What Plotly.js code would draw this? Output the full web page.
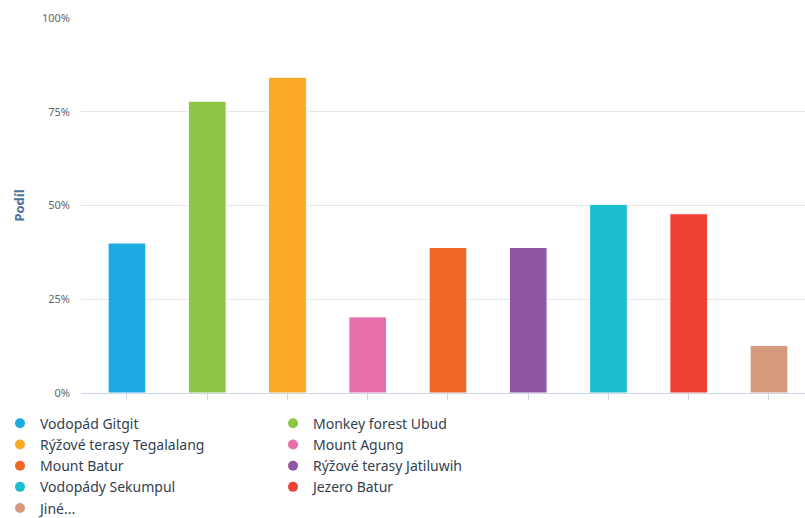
<!DOCTYPE html>
<html>
<head>
<meta charset="utf-8">
<script src="https://cdn.plot.ly/plotly-3.0.1.min.js"></script>
<style>
  html, body { margin: 0; padding: 0; background: #fff; }
  #chart { width: 805px; height: 518px; }
</style>
</head>
<body>
<div id="chart"></div>
<script>
// Places visited on Bali, share of respondents (%)
const categories = [
  "Vodopád Gitgit",
  "Monkey forest Ubud",
  "Rýžové terasy Tegalalang",
  "Mount Agung",
  "Mount Batur",
  "Rýžové terasy Jatiluwih",
  "Vodopády Sekumpul",
  "Jezero Batur",
  "Jiné..."
];
const shares = [40.0, 77.8, 84.2, 20.3, 38.8, 38.8, 50.3, 47.8, 12.7];
const colors = [
  "#1ea9e1", "#8bc646", "#fba826", "#e86fab", "#f26724",
  "#9055a3", "#1cbdce", "#ef4136", "#d69a7c"
];
const yTicks = [0, 25, 50, 75, 100];
const yTickText = ["0%", "25%", "50%", "75%", "100%"];

const traces = [];
// one bar per category so each gets its own colour
categories.forEach((name, i) => {
  traces.push({
    type: "bar",
    x: [i],
    y: [shares[i]],
    width: 0.47,
    marker: { color: colors[i], line: { color: "#ffffff", width: 1 } },
    showlegend: false,
    hoverinfo: "skip",
    name: name
  });
});
// round legend markers
categories.forEach((name, i) => {
  traces.push({
    type: "scatter",
    mode: "markers",
    x: [null],
    y: [null],
    marker: { color: colors[i], size: 10, symbol: "circle" },
    name: name,
    showlegend: true
  });
});

const layout = {
  width: 805,
  height: 518,
  margin: { l: 81, r: 0, t: 18, b: 124.5 },
  paper_bgcolor: "#ffffff",
  plot_bgcolor: "#ffffff",
  font: { family: "Noto Sans, Open Sans, sans-serif", color: "#666666", size: 11 },
  barmode: "overlay",
  showlegend: true,
  xaxis: {
    range: [-0.573, 8.449],
    tickvals: categories.map((_, i) => i),
    showticklabels: false,
    ticks: "outside",
    ticklen: 6,
    tickcolor: "#ccd6eb",
    showgrid: false,
    zeroline: false,
    showline: true,
    linecolor: "#ccd6eb",
    linewidth: 1,
    fixedrange: true
  },
  yaxis: {
    range: [0, 100],
    tickmode: "array",
    tickvals: yTicks,
    ticktext: yTickText,
    showgrid: true,
    gridcolor: "#e6e6e6",
    zeroline: false,
    showline: false,
    ticks: "",
    ticklabelstandoff: 10,
    tickfont: { size: 11, color: "#666666" },
    title: {
      text: "<b>Podíl</b>",
      font: { size: 13, color: "#4d6f9b" },
      standoff: 14
    },
    fixedrange: true
  },
  legend: {
    orientation: "h",
    xref: "container",
    yref: "container",
    x: -0.006,
    xanchor: "left",
    y: 0.213,
    yanchor: "top",
    entrywidth: 228,
    entrywidthmode: "pixels",
    font: { size: 14, color: "#333f50" },
    itemclick: false,
    traceorder: "normal"
  }
};

Plotly.newPlot("chart", traces, layout, { displayModeBar: false, staticPlot: true });
</script>
</body>
</html>
